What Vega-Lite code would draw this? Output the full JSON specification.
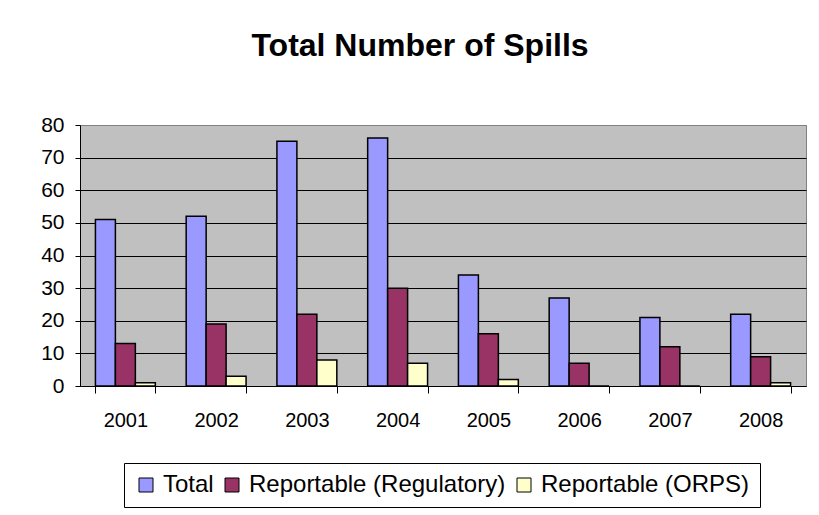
{
  "$schema": "https://vega.github.io/schema/vega-lite/v6.json",
  "width": 726,
  "height": 261,
  "autosize": {"type": "none"},
  "padding": {"left": 80, "top": 125, "right": 13, "bottom": 129},
  "background": "white",
  "title": {
    "text": "Total Number of Spills",
    "font": "Liberation Sans",
    "fontSize": 32,
    "fontWeight": "bold",
    "color": "black",
    "anchor": "middle",
    "dx": -23,
    "offset": 51
  },
  "data": {
    "values": [
      {"year": "2001", "series": "Total", "spills": 51},
      {"year": "2001", "series": "Reportable (Regulatory)", "spills": 13},
      {"year": "2001", "series": "Reportable (ORPS)", "spills": 1},
      {"year": "2002", "series": "Total", "spills": 52},
      {"year": "2002", "series": "Reportable (Regulatory)", "spills": 19},
      {"year": "2002", "series": "Reportable (ORPS)", "spills": 3},
      {"year": "2003", "series": "Total", "spills": 75},
      {"year": "2003", "series": "Reportable (Regulatory)", "spills": 22},
      {"year": "2003", "series": "Reportable (ORPS)", "spills": 8},
      {"year": "2004", "series": "Total", "spills": 76},
      {"year": "2004", "series": "Reportable (Regulatory)", "spills": 30},
      {"year": "2004", "series": "Reportable (ORPS)", "spills": 7},
      {"year": "2005", "series": "Total", "spills": 34},
      {"year": "2005", "series": "Reportable (Regulatory)", "spills": 16},
      {"year": "2005", "series": "Reportable (ORPS)", "spills": 2},
      {"year": "2006", "series": "Total", "spills": 27},
      {"year": "2006", "series": "Reportable (Regulatory)", "spills": 7},
      {"year": "2006", "series": "Reportable (ORPS)", "spills": 0},
      {"year": "2007", "series": "Total", "spills": 21},
      {"year": "2007", "series": "Reportable (Regulatory)", "spills": 12},
      {"year": "2007", "series": "Reportable (ORPS)", "spills": 0},
      {"year": "2008", "series": "Total", "spills": 22},
      {"year": "2008", "series": "Reportable (Regulatory)", "spills": 9},
      {"year": "2008", "series": "Reportable (ORPS)", "spills": 1}
    ]
  },
  "mark": {"type": "bar", "stroke": "black", "strokeWidth": 1.5},
  "encoding": {
    "x": {
      "field": "year",
      "type": "nominal",
      "scale": {"paddingInner": 0.34, "paddingOuter": 0.17},
      "axis": {
        "title": null,
        "labelAngle": 0,
        "labelFont": "Liberation Sans",
        "labelFontSize": 20,
        "labelColor": "black",
        "labelPadding": 17,
        "domainColor": "black",
        "domainWidth": 1,
        "tickColor": "black",
        "tickSize": 7,
        "tickBand": "extent",
        "grid": false
      }
    },
    "xOffset": {
      "field": "series",
      "type": "nominal",
      "sort": ["Total", "Reportable (Regulatory)", "Reportable (ORPS)"],
      "scale": {"paddingInner": 0, "paddingOuter": 0}
    },
    "y": {
      "field": "spills",
      "type": "quantitative",
      "scale": {"domain": [0, 80], "nice": false},
      "axis": {
        "title": null,
        "values": [0, 10, 20, 30, 40, 50, 60, 70, 80],
        "labelFont": "Liberation Sans",
        "labelFontSize": 21,
        "labelColor": "black",
        "labelPadding": 11,
        "domainColor": "black",
        "domainWidth": 1,
        "tickColor": "black",
        "tickSize": 5,
        "grid": true,
        "gridColor": {"condition": {"test": "datum.value == 80", "value": "#808080"}, "value": "black"},
        "gridWidth": 1,
        "gridOpacity": 1
      }
    },
    "color": {
      "field": "series",
      "type": "nominal",
      "sort": ["Total", "Reportable (Regulatory)", "Reportable (ORPS)"],
      "scale": {
        "domain": ["Total", "Reportable (Regulatory)", "Reportable (ORPS)"],
        "range": ["#9999FF", "#993366", "#FFFFCC"]
      },
      "legend": {
        "title": null,
        "orient": "none",
        "legendX": 44,
        "legendY": 338,
        "direction": "horizontal",
        "columns": 3,
        "symbolType": "square",
        "symbolSize": 196,
        "symbolStrokeColor": "black",
        "symbolStrokeWidth": 1,
        "symbolOpacity": 1,
        "labelFont": "Liberation Sans",
        "labelFontSize": 24,
        "labelColor": "black",
        "labelOffset": 5,
        "columnPadding": 6,
        "labelLimit": 400,
        "padding": 10,
        "strokeColor": "black",
        "fillColor": "white"
      }
    }
  },
  "config": {
    "view": {"fill": "#C0C0C0", "stroke": "#808080", "strokeWidth": 1}
  }
}
